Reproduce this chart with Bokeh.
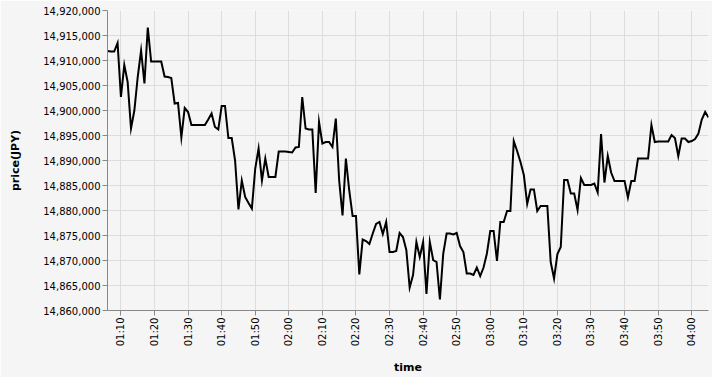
import pandas as pd
from math import pi
from bokeh.plotting import figure
from bokeh.models import (Range1d, FixedTicker, DatetimeTickFormatter,
                          NumeralTickFormatter, ColumnDataSource)
from bokeh.embed import file_html
from bokeh.resources import INLINE

# ---- data (one sample per minute from 01:06) ----
start_time = "2021-01-01 01:06"
prices = [
    14911900, 14911800, 14911800, 14913500, 14902700, 14909100, 14905700, 14896400, 14900000, 14906700,
    14912000, 14905400, 14916600, 14909800, 14909800, 14909800, 14909800, 14906800, 14906700, 14906500,
    14901400, 14901500, 14894600, 14900500, 14899700, 14897100, 14897100, 14897100, 14897100, 14897100,
    14898200, 14899400, 14896700, 14896200, 14900900, 14900900, 14894500, 14894500, 14890000, 14880200,
    14886000, 14882700, 14881500, 14880400, 14888400, 14892400, 14886000, 14890400, 14886700, 14886700,
    14886700, 14891800, 14891800, 14891800, 14891700, 14891600, 14892600, 14892700, 14902700, 14896400,
    14896200, 14896200, 14883500, 14897700, 14893400, 14893700, 14893700, 14892700, 14898400, 14886000,
    14879000, 14890400, 14884000, 14878900, 14878900, 14867200, 14874200, 14873900, 14873300, 14875400,
    14877300, 14877700, 14875300, 14877700, 14871700, 14871700, 14871900, 14875500, 14874700, 14872100,
    14864600, 14867100, 14873700, 14870700, 14873700, 14863300, 14873700, 14870100, 14869700, 14862200,
    14871400, 14875400, 14875400, 14875200, 14875500, 14872900, 14871700, 14867400, 14867400, 14867100,
    14868600, 14866900, 14868600, 14871400, 14875900, 14875900, 14869900, 14877700, 14877700, 14879900,
    14879900, 14893900, 14891900, 14889700, 14887100, 14881300, 14884200, 14884200, 14879900, 14880900,
    14880900, 14880900, 14869700, 14866400, 14871300, 14872700, 14886100, 14886100, 14883400, 14883400,
    14880100, 14886500, 14885100, 14885100, 14885100, 14885400, 14883600, 14895300, 14885600, 14890900,
    14887600, 14885900, 14885900, 14885900, 14885900, 14882600, 14885900, 14885900, 14890400, 14890400,
    14890400, 14890400, 14897100, 14893700, 14893800, 14893800, 14893800, 14893800, 14895100, 14894500,
    14890900, 14894400, 14894400, 14893700, 14893900, 14894300, 14895400, 14898200, 14899700, 14898600,
]
x_tick_labels = ["01:10", "01:20", "01:30", "01:40", "01:50", "02:00", "02:10", "02:20", "02:30",
                 "02:40", "02:50", "03:00", "03:10", "03:20", "03:30", "03:40", "03:50", "04:00"]
y_ticks = [14860000, 14865000, 14870000, 14875000, 14880000, 14885000, 14890000,
           14895000, 14900000, 14905000, 14910000, 14915000, 14920000]

BG = "#f5f5f5"
FONT = "DejaVu Sans"

times = pd.date_range(start_time, periods=len(prices), freq="1min")
src = ColumnDataSource(dict(time=times, price=prices))

day = start_time.split(" ")[0]
x_ticks = [pd.Timestamp(day + " " + t).value / 1e6 for t in x_tick_labels]

p = figure(
    x_axis_type="datetime",
    frame_width=601, frame_height=300,
    min_border_left=107, min_border_right=4, min_border_top=10, min_border_bottom=10,
    x_range=Range1d(times[0].to_pydatetime(), times[-1].to_pydatetime()),
    y_range=Range1d(y_ticks[0], y_ticks[-1]),
    background_fill_color=BG, border_fill_color=BG, outline_line_color=None,
    output_backend="svg", toolbar_location=None,
)

p.line("time", "price", source=src, line_color="black", line_width=2, line_join="miter")

p.xaxis.ticker = FixedTicker(ticks=x_ticks)
p.xaxis.formatter = DatetimeTickFormatter(minutes="%H:%M", hourmin="%H:%M", hours="%H:%M")
p.yaxis.ticker = FixedTicker(ticks=y_ticks)
p.yaxis.formatter = NumeralTickFormatter(format="0,0")

for ax in p.axis:
    ax.axis_line_color = "#888"
    ax.major_tick_line_color = "#888"
    ax.major_tick_out = 5
    ax.major_tick_in = 0
    ax.minor_tick_line_color = None
    ax.major_label_text_font = FONT
    ax.major_label_text_font_size = "10px"
    ax.major_label_text_color = "#000"
    ax.axis_label_text_font = FONT
    ax.axis_label_text_font_size = "11px"
    ax.axis_label_text_font_style = "bold"
    ax.axis_label_text_color = "#000"

p.xaxis.axis_label = "time"
p.xaxis.major_label_orientation = pi / 2
p.xaxis.major_label_standoff = 2
p.xaxis.axis_label_standoff = 12
p.yaxis.axis_label = "price(JPY)"
p.yaxis.major_label_standoff = 2
p.yaxis.axis_label_standoff = 18

p.grid.grid_line_color = "#ddd"
p.grid.grid_line_width = 1

open("out.html", "w").write(file_html(p, INLINE))
